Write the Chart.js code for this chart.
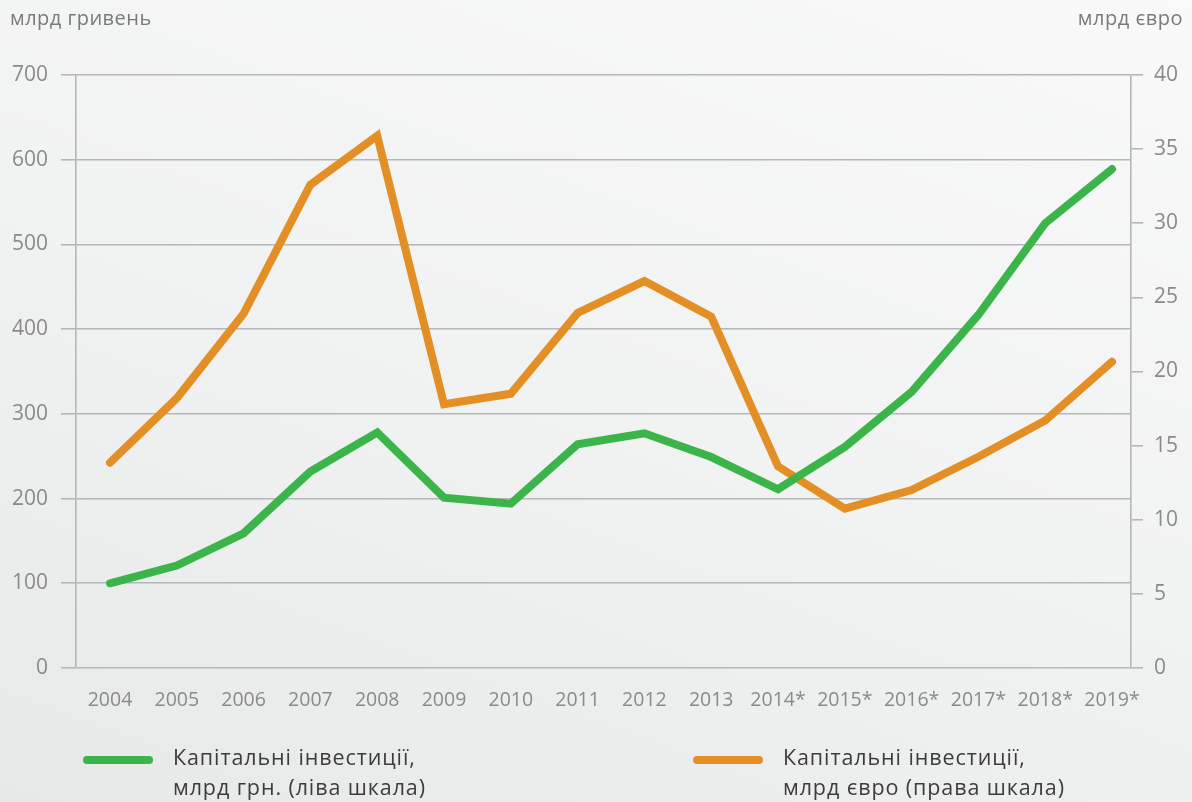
<!DOCTYPE html>
<html>
<head>
<meta charset="utf-8">
<script src="https://cdn.jsdelivr.net/npm/chart.js@4.4.1/dist/chart.umd.min.js"></script>
<style>
  html, body { margin: 0; padding: 0; }
  body {
    width: 1192px; height: 802px; overflow: hidden; position: relative;
    background: linear-gradient(200deg, #f9f9f9 0%, #f1f2f2 50%, #e7e8e8 100%);
    font-family: "Open Sans", sans-serif;
  }
  #wrap { position: absolute; left: 0; top: 0; width: 1192px; height: 802px; }
  .unit { position: absolute; top: 4px; font-size: 20px; letter-spacing: 0.5px; color: #7a7a7a; }
  .legend { position: absolute; top: 742px; display: flex; align-items: flex-start; }
  .sw { width: 70px; height: 8px; border-radius: 4px; margin-top: 14px; margin-right: 20px; }
  .lt { font-size: 21.5px; letter-spacing: 0.9px; line-height: 30px; color: #3c3c3c; }
</style>
</head>
<body>
<div id="wrap"><canvas id="c" width="1192" height="802"></canvas></div>
<div class="unit" style="left:10px;">млрд гривень</div>
<div class="unit" style="right:9px;">млрд євро</div>
<div class="legend" style="left:83px;"><div class="sw" style="background:#3bb54a"></div><div class="lt">Капітальні інвестиції,<br>млрд грн. (ліва шкала)</div></div>
<div class="legend" style="left:693px;"><div class="sw" style="background:#e38f26"></div><div class="lt">Капітальні інвестиції,<br>млрд євро (права шкала)</div></div>
<script>
const years = ["2004","2005","2006","2007","2008","2009","2010","2011","2012","2013","2014*","2015*","2016*","2017*","2018*","2019*"];
const investUAH = [100, 121, 159, 232, 278, 201, 194, 264, 277, 249, 211, 261, 326, 417, 525, 589];
const investEUR = [13.85, 18.2, 23.9, 32.6, 35.9, 17.8, 18.5, 23.95, 26.1, 23.7, 13.6, 10.75, 12.0, 14.25, 16.7, 20.65];
const seriesNames = ["Капітальні інвестиції, млрд грн. (ліва шкала)", "Капітальні інвестиції, млрд євро (права шкала)"];

const FONT = "'Open Sans', sans-serif";
const GRID = "#b6b6ba";
const TICKC = "#8a8a8a";

new Chart(document.getElementById('c'), {
  type: 'line',
  data: {
    datasets: [
      {
        label: seriesNames[0],
        data: investUAH.map((v, i) => ({x: i, y: v})),
        yAxisID: 'yL',
        borderColor: '#3bb54a',
        borderWidth: 8,
        borderCapStyle: 'round',
        borderJoinStyle: 'miter',
        pointRadius: 0,
        tension: 0
      },
      {
        label: seriesNames[1],
        data: investEUR.map((v, i) => ({x: i, y: v})),
        yAxisID: 'yR',
        borderColor: '#e38f26',
        borderWidth: 8,
        borderCapStyle: 'round',
        borderJoinStyle: 'miter',
        pointRadius: 0,
        tension: 0
      }
    ]
  },
  options: {
    responsive: false,
    animation: false,
    layout: { padding: { top: 75, left: 0, right: 0, bottom: 0 } },
    plugins: { legend: { display: false }, tooltip: { enabled: false } },
    scales: {
      x: {
        type: 'linear',
        min: -0.509,
        max: 15.284,
        afterBuildTicks: (s) => { s.ticks = years.map((_, i) => ({ value: i })); },
        afterFit: (s) => { s.height = 134; },
        grid: { display: false, drawTicks: false },
        border: { display: false },
        ticks: {
          autoSkip: false,
          maxRotation: 0,
          padding: 21,
          color: TICKC,
          font: { family: FONT, size: 19.5 },
          callback: (v) => years[v]
        }
      },
      yL: {
        position: 'left',
        min: 0, max: 700,
        afterFit: (s) => { s.width = 76; },
        grid: { color: GRID, lineWidth: 1.6, tickLength: 15 },
        border: { display: true, color: GRID, width: 1.6 },
        ticks: { stepSize: 100, padding: 13, color: TICKC, font: { family: FONT, size: 21 } }
      },
      yR: {
        position: 'right',
        min: 0, max: 40,
        afterFit: (s) => { s.width = 61; },
        grid: { drawOnChartArea: false, color: GRID, lineWidth: 1.6, tickLength: 12 },
        border: { display: true, color: GRID, width: 1.6 },
        ticks: { stepSize: 5, padding: 11, color: TICKC, font: { family: FONT, size: 21 } }
      }
    }
  }
});
</script>
</body>
</html>
